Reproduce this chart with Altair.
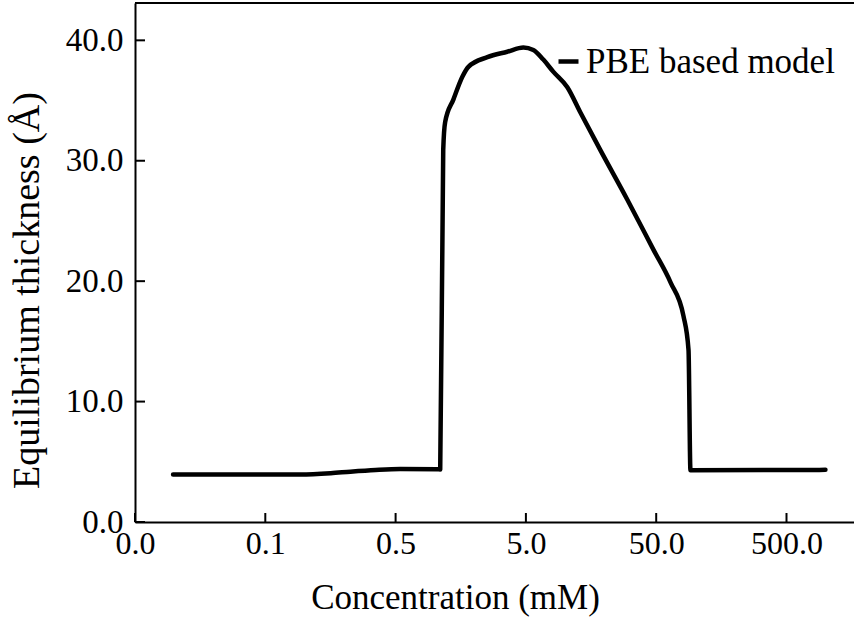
import altair as alt
import pandas as pd

# Concentration (mM) and equilibrium thickness (Å)
conc = [0.0098, 0.0933, 0.159, 0.225, 0.351, 0.543, 1.045, 1.10,
        1.16, 1.20, 1.39, 1.63, 1.81, 2.53, 3.6, 4.78, 5.70, 6.8, 8.1,
        10.4, 13.1, 18.6, 29.9, 47.7, 64.4, 81.0, 88.5, 91.6, 995.0]
thickness = [3.94, 3.94, 4.05, 4.18, 4.32, 4.40, 4.38, 4.36,
             30.9, 33.2, 35.1, 37.0, 37.8, 38.6, 39.05, 39.4, 39.2, 38.4, 37.4,
             36.1, 34.0, 30.9, 26.8, 22.6, 19.9, 17.1, 14.3, 4.29, 4.33]
series_name = ["PBE based model"]

x_ticks = [0.005, 0.05, 0.5, 5, 50, 500]
y_ticks = [0, 10, 20, 30, 40]

df = pd.DataFrame({"conc": conc, "thickness": thickness,
                   "series": series_name * len(conc)})
xt = pd.DataFrame({"t": x_ticks})
yt = pd.DataFrame({"t": y_ticks})

W, H = 719, 519
XMAX = 0.005 * 10 ** (W / 130.3)
FONT = "'Liberation Serif', 'Times New Roman', serif"

xscale = alt.Scale(type="log", domain=[0.005, XMAX], nice=False)
yscale = alt.Scale(domain=[0, 43.1], nice=False, zero=False)

line = alt.Chart(df).mark_line(strokeWidth=4.5, interpolate="monotone",
                               strokeCap="round", strokeJoin="round").encode(
    x=alt.X("conc:Q", scale=xscale,
            axis=alt.Axis(values=x_ticks, format=".1f", title="Concentration (mM)",
                          grid=False, ticks=False, domain=True, domainColor="black",
                          domainWidth=2, labelFont=FONT, labelFontSize=32,
                          labelColor="black", labelPadding=6, labelFlush=False,
                          titleFont=FONT, titleFontSize=35, titleFontWeight="normal",
                          titleColor="black", titleX=320, titleY=86,
                          titleBaseline="alphabetic", titleAlign="center")),
    y=alt.Y("thickness:Q", scale=yscale,
            axis=alt.Axis(values=y_ticks, format=".1f",
                          title="Equilibrium thickness (Å)",
                          grid=False, ticks=False, domain=True, domainColor="black",
                          domainWidth=2, labelFont=FONT, labelFontSize=33,
                          labelColor="black", labelPadding=12,
                          titleFont=FONT, titleFontSize=38, titleFontWeight="normal",
                          titleColor="black", titleX=-97, titleY=287, titleAngle=-90,
                          titleBaseline="alphabetic", titleAlign="center")),
    color=alt.Color("series:N", scale=alt.Scale(range=["black"]),
                    legend=alt.Legend(title=None, orient="none", legendX=416,
                                      legendY=41, symbolType="stroke",
                                      symbolStrokeWidth=4.5, symbolSize=400,
                                      labelFont=FONT, labelFontSize=35,
                                      labelColor="black", labelOffset=0,
                                      labelLimit=0, padding=0)),
)

xtick_rules = alt.Chart(xt).mark_rule(color="black", strokeWidth=2).encode(
    x=alt.X("t:Q", scale=xscale), y=alt.value(H), y2=alt.value(H - 9))
ytick_rules = alt.Chart(yt).mark_rule(color="black", strokeWidth=2).encode(
    y=alt.Y("t:Q", scale=yscale), x=alt.value(0), x2=alt.value(10))
top_line = alt.Chart(yt.head(1)).mark_rule(color="black", strokeWidth=2).encode(
    y=alt.value(0), x=alt.value(0), x2=alt.value(W))

chart = alt.layer(line, xtick_rules, ytick_rules, top_line).properties(
    width=W, height=H,
    autosize=alt.AutoSizeParams(type="none"),
    padding={"left": 135, "top": 3, "right": 0, "bottom": 105},
).configure_view(stroke=None).configure(background="white")

chart.save("out.html", embed_options={"renderer": "svg", "actions": False})
